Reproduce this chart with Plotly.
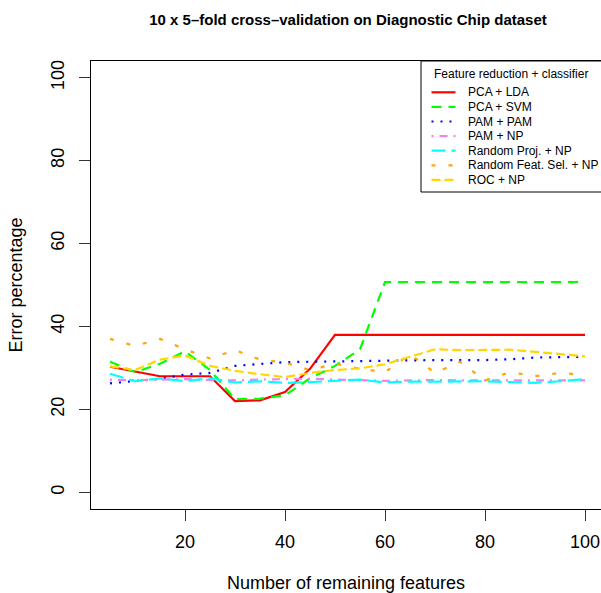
import plotly.graph_objects as go

features = [5, 10, 15, 20, 25, 30, 35, 40, 45, 50, 55, 60, 65, 70, 75, 80, 85, 90, 95, 100]

pca_lda = [30.3, 29.2, 28.0, 28.0, 28.0, 22.0, 22.2, 24.2, 29.8, 38.0, 38.0, 38.0, 38.0, 38.0, 38.0, 38.0, 38.0, 38.0, 38.0, 38.0]
pca_svm = [31.5, 29.0, 31.0, 34.0, 29.5, 22.5, 22.6, 23.4, 27.5, 30.5, 34.5, 50.7, 50.7, 50.7, 50.7, 50.7, 50.7, 50.7, 50.7, 50.7]
pam_pam = [26.3, 26.9, 27.4, 28.4, 28.8, 30.5, 30.9, 31.4, 31.5, 31.6, 31.7, 31.8, 31.9, 31.9, 31.9, 31.9, 32.1, 32.5, 32.6, 32.7]
pam_np = [27.2, 27.0, 27.2, 27.3, 27.1, 27.0, 27.2, 27.3, 27.4, 27.2, 27.0, 26.9, 27.0, 27.1, 27.0, 27.0, 27.1, 27.0, 27.0, 27.0]
rand_proj_np = [28.6, 26.8, 27.5, 26.8, 27.5, 26.5, 26.8, 26.4, 26.6, 26.9, 27.2, 26.5, 26.7, 26.7, 26.7, 26.8, 26.6, 26.4, 26.8, 27.3]
rand_feat_np = [37.0, 35.3, 37.0, 34.5, 32.3, 34.3, 32.0, 31.3, 29.5, 31.0, 29.8, 29.0, 33.3, 28.8, 31.5, 27.0, 29.0, 28.0, 28.8, 28.3]
roc_np = [30.4, 29.5, 32.0, 33.0, 30.5, 29.3, 28.5, 27.8, 28.8, 29.5, 29.9, 30.9, 32.7, 34.5, 34.3, 34.3, 34.4, 33.9, 33.4, 32.8]

series_names = ["PCA + LDA", "PCA + SVM", "PAM + PAM", "PAM + NP",
                "Random Proj. + NP", "Random Feat. Sel. + NP", "ROC + NP"]
series_values = [pca_lda, pca_svm, pam_pam, pam_np, rand_proj_np, rand_feat_np, roc_np]
series_colors = ["#FF0000", "#00FF00", "#0000FF", "#EE82EE", "#00FFFF", "#FFA500", "#FFD700"]
series_dash = ["solid", "10px,7px", "2px,7px", "2px,6px,8px,6px", "14px,6px", "4px,13px", "9px,4px"]

x_ticks = [20, 40, 60, 80, 100]
y_ticks = [0, 20, 40, 60, 80, 100]

FONT = "Liberation Sans, Arial, Helvetica, sans-serif"
W, H = 601, 593
L, R, T, B = 91, 0, 61, 593 - 509
PW, PH = W - L - R, H - T - B


def px2x(px):
    return (px - L) / PW


def py2y(py):
    return (H - B - py) / PH


fig = go.Figure()
for name, vals, col, dash in zip(series_names, series_values, series_colors, series_dash):
    fig.add_trace(go.Scatter(x=features, y=vals, mode="lines", name=name,
                             line=dict(color=col, width=2.2, dash=dash),
                             showlegend=False))

shapes = []
annotations = []
# legend box
shapes.append(dict(type="rect", xref="paper", yref="paper",
                   x0=px2x(421), x1=px2x(604), y0=py2y(192), y1=py2y(61),
                   line=dict(color="black", width=1), fillcolor="white", layer="above"))
annotations.append(dict(text="Feature reduction + classifier", xref="paper", yref="paper",
                        x=px2x(511), y=py2y(73.5), xanchor="center", yanchor="middle",
                        showarrow=False, font=dict(family=FONT, size=12, color="black")))
row_y = [92.3, 106.9, 121.5, 136.1, 150.7, 165.3, 179.9]
for name, col, dash, ry in zip(series_names, series_colors, series_dash, row_y):
    shapes.append(dict(type="line", xref="paper", yref="paper",
                       x0=px2x(431.5), x1=px2x(455.5), y0=py2y(ry), y1=py2y(ry),
                       line=dict(color=col, width=2.2, dash=dash), layer="above"))
    annotations.append(dict(text=name, xref="paper", yref="paper",
                            x=px2x(465.5), y=py2y(ry), xanchor="left", yanchor="middle",
                            showarrow=False, font=dict(family=FONT, size=12, color="black")))

fig.update_layout(
    width=W, height=H,
    margin=dict(l=L, r=R, t=T, b=B, pad=0),
    paper_bgcolor="white", plot_bgcolor="white",
    font=dict(family=FONT, size=18, color="black"),
    title=dict(text="<b>10 x 5\u2013fold cross\u2013validation on Diagnostic Chip dataset</b>",
               x=348 / W, xanchor="center", y=1 - 20 / H, yanchor="middle",
               font=dict(family=FONT, size=15, color="black")),
    xaxis=dict(range=[1.2, 1.2 + PW / 5.0], tickvals=x_ticks, ticktext=[str(v) for v in x_ticks],
               showgrid=False, zeroline=False, showline=True, mirror=True,
               linecolor="black", linewidth=1, ticks="outside", ticklen=11,
               tickcolor="#333333", tickwidth=1, ticklabelstandoff=5,
               tickfont=dict(family=FONT, size=18, color="black"),
               title=dict(text="Number of remaining features", standoff=26,
                          font=dict(family=FONT, size=18, color="black"))),
    yaxis=dict(range=[-4, 104], tickvals=y_ticks, ticktext=[str(v) for v in y_ticks],
               showgrid=False, zeroline=False, showline=True, mirror=False,
               linecolor="black", linewidth=1, ticks="outside", ticklen=11,
               tickcolor="#333333", tickwidth=1, tickangle=-90, ticklabelstandoff=8,
               tickfont=dict(family=FONT, size=18, color="black"),
               title=dict(text="Error percentage", standoff=20,
                          font=dict(family=FONT, size=18, color="black"))),
    shapes=shapes, annotations=annotations,
)

fig.write_html("out.html",
               config={"displayModeBar": False},
               post_script="document.body.style.margin='0';document.body.style.overflow='hidden';")
